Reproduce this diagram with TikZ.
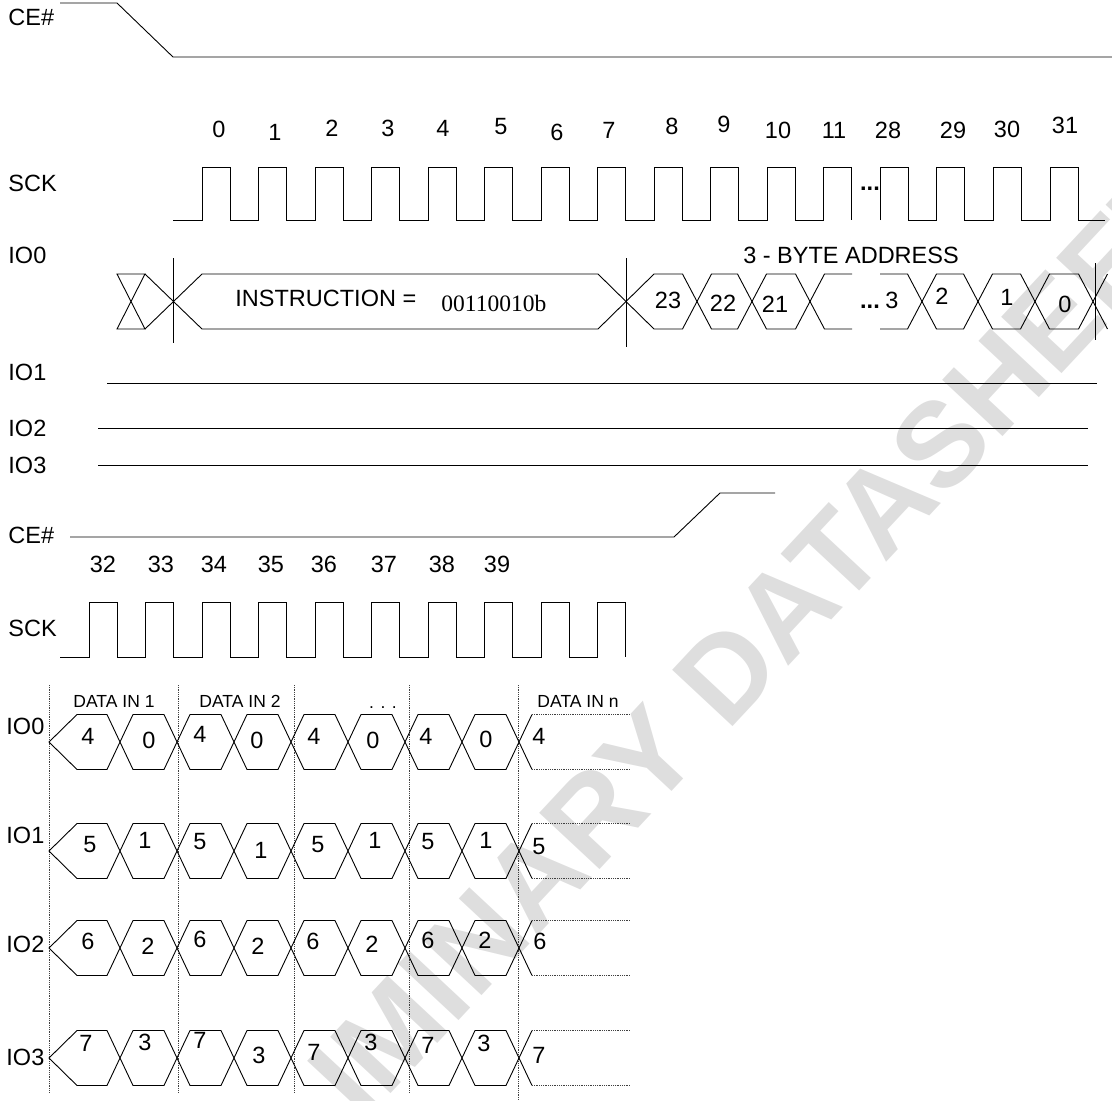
\documentclass[tikz,border=0pt]{standalone}
\usepackage{fontspec}
\setmainfont{Liberation Sans}
\newfontfamily\timesfont{Liberation Serif}
\begin{document}
\begin{tikzpicture}[x=1pt,y=-1pt,line width=0.9pt,
  every node/.style={inner sep=0pt,font=\fontsize{23.5}{28}\selectfont},
  small/.style={font=\fontsize{17.5}{21}\selectfont},
  grid/.style={densely dotted,line width=0.8pt,black!75}]
\useasboundingbox (0,0) rectangle (1112,1101);
% watermark
\node[rotate=47,text=black!13,font=\bfseries\fontsize{120}{120}\selectfont] (mark) at (650,755) {PRELIMINARY DATASHEET};
% signal names
\node[anchor=west] (ce1) at (8,17) {CE\#};
\node[anchor=west] (sck1) at (8,183) {SCK};
\node[anchor=west] (io0a) at (8,255) {IO0};
\node[anchor=west] (io1a) at (8,372) {IO1};
\node[anchor=west] (io2a) at (8,428) {IO2};
\node[anchor=west] (io3a) at (8,465) {IO3};
\node[anchor=west] (ce2) at (8,535) {CE\#};
\node[anchor=west] (sck2) at (8,628) {SCK};
\node[anchor=west] (io0b) at (6,726) {IO0};
\node[anchor=west] (io1b) at (6,835) {IO1};
\node[anchor=west] (io2b) at (6,944) {IO2};
\node[anchor=west] (io3b) at (6,1057) {IO3};
% CE# falling
\draw (60,3) -- (117,3) -- (173,57) -- (1112,57);
% clock numbers
\foreach \x/\y/\t in {219/129/0,275/132/1,332/128/2,388/128/3,443/128/4,501/127/5,557/132/6,609/130/7,
  672/126/8,724/124/9,778/130/10,834/130/11,888/130/28,953/130/29,1007/129/30,1065/125/31}
  \node (n\t) at (\x,\y) {\t};
% SCK 0..31
\draw (173,220) \foreach \i in {0,...,11} { -- ({202+56.5*\i},220) -- ++(0,-53) -- ++(28,0) -- ++(0,53) };
\node[anchor=base] (gap1) at (870,190) {\textbf{...}};
\draw (880,220) \foreach \j in {0,...,3} { -- ({880+56.7*\j},220) -- ++(0,-53) -- ++(28,0) -- ++(0,53) } -- (1105,220);
% IO0 instruction and address
\draw (117,274) -- (145,274) -- (117,329) -- (145,329) -- cycle;
\draw (145,274) -- (202,329) -- (598,329) -- (654,274) -- (682.5,274) -- (697,301.5);
\draw (145,329) -- (202,274) -- (598,274) -- (654,329) -- (682.5,329) -- (697,301.5);
\draw (173.5,258) -- (173.5,343);
\draw (626,258) -- (626,347);
\foreach \a/\b in {697/752,752/810,922/978,978/1035}
  \draw (\a,301.5) -- ({\a+14.5},274) -- ({\b-14.5},274) -- (\b,301.5) -- ({\b-14.5},329) -- ({\a+14.5},329) -- cycle;
\draw (852,274) -- (824.5,274) -- (810,301.5) -- (824.5,329) -- (852,329);
\draw (880,274) -- (907.5,274) -- (922,301.5) -- (907.5,329) -- (880,329);
\draw (1107.5,329) -- (1078.5,274) -- (1049.5,274) -- (1035,301.5) -- (1049.5,329) -- (1078.5,329) -- (1107.5,274);
\draw (1095,263) -- (1095,340);
\node[anchor=west] (instr) at (235,298) {INSTRUCTION =};
\node[anchor=west,font=\timesfont\fontsize{23.5}{28}\selectfont] (opcode) at (441,303) {00110010b};
\node (addr) at (851,255) {3 - BYTE ADDRESS};
\foreach \x/\y/\t in {668/300/23,723/303/22,775/304/21,892/300/3,942/296/2,1007/297/1,1065/304/0}
  \node (a\t) at (\x,\y) {\t};
\node[anchor=base] (gap2) at (870,308) {\textbf{...}};
% IO1..IO3 idle
\draw (107,383) -- (1097,383);
\draw (98,428) -- (1088,428);
\draw (98,465) -- (1088,465);
% CE# rising
\draw (70,537) -- (674,537) -- (720,493) -- (775,493);
\foreach \x/\t in {103/32,161/33,214/34,271/35,324/36,384/37,442/38,497/39}
  \node (n\t) at (\x,564) {\t};
% SCK 32..41
\draw (60,657) \foreach \i in {0,...,9} { -- ({89+56.5*\i},657) -- ++(0,-55) -- ++(28,0) -- ++(0,55) };
% data in, quad
\foreach \x in {49,178,294,409}
  \draw[grid] (\x,685) -- (\x,1093);
\draw[grid] (518,685) -- (518,1100);
\foreach \m in {742,851,948,1058} {
  \draw (49,\m) -- (77,\m-27.5) -- (107,\m-27.5) -- (120,\m) -- (107,\m+27.5) -- (77,\m+27.5) -- cycle;
  \foreach \i in {1,...,7}
    \draw ({63+57*\i},\m) -- ++(13,-27.5) -- ++(31,0) -- ++(13,27.5) -- ++(-13,27.5) -- ++(-31,0) -- cycle;
  \draw (532,\m-27.5) -- (519,\m) -- (532,\m+27.5);
  \draw[grid] (532,\m-27.5) -- (630,\m-27.5) (532,\m+27.5) -- (630,\m+27.5);
}
\node[small] (din1) at (114,701) {DATA IN 1};
\node[small] (din2) at (240,701) {DATA IN 2};
\node[small,anchor=base] (dinx) at (383,708) {. . .};
\node[small] (dinn) at (578,701) {DATA IN n};
\foreach \x/\y/\t [count=\k] in {88/736/4,149/740/0,200/734/4,257/740/0,314/736/4,373/740/0,426/736/4,486/739/0,539/736/4}
  \node (b0\k) at (\x,\y) {\t};
\foreach \x/\y/\t [count=\k] in {90/845/5,145/840/1,200/842/5,261/850/1,318/845/5,375/840/1,428/842/5,486/840/1,539/847/5}
  \node (b1\k) at (\x,\y) {\t};
\foreach \x/\y/\t [count=\k] in {88/941/6,148/946/2,200/939/6,258/946/2,313/941/6,372/944/2,428/940/6,485/940/2,540/941/6}
  \node (b2\k) at (\x,\y) {\t};
\foreach \x/\y/\t [count=\k] in {86/1043/7,145/1042/3,200/1040/7,259/1055/3,314/1052/7,371/1042/3,428/1045/7,484/1043/3,539/1055/7}
  \node (b3\k) at (\x,\y) {\t};
\end{tikzpicture}
\end{document}
